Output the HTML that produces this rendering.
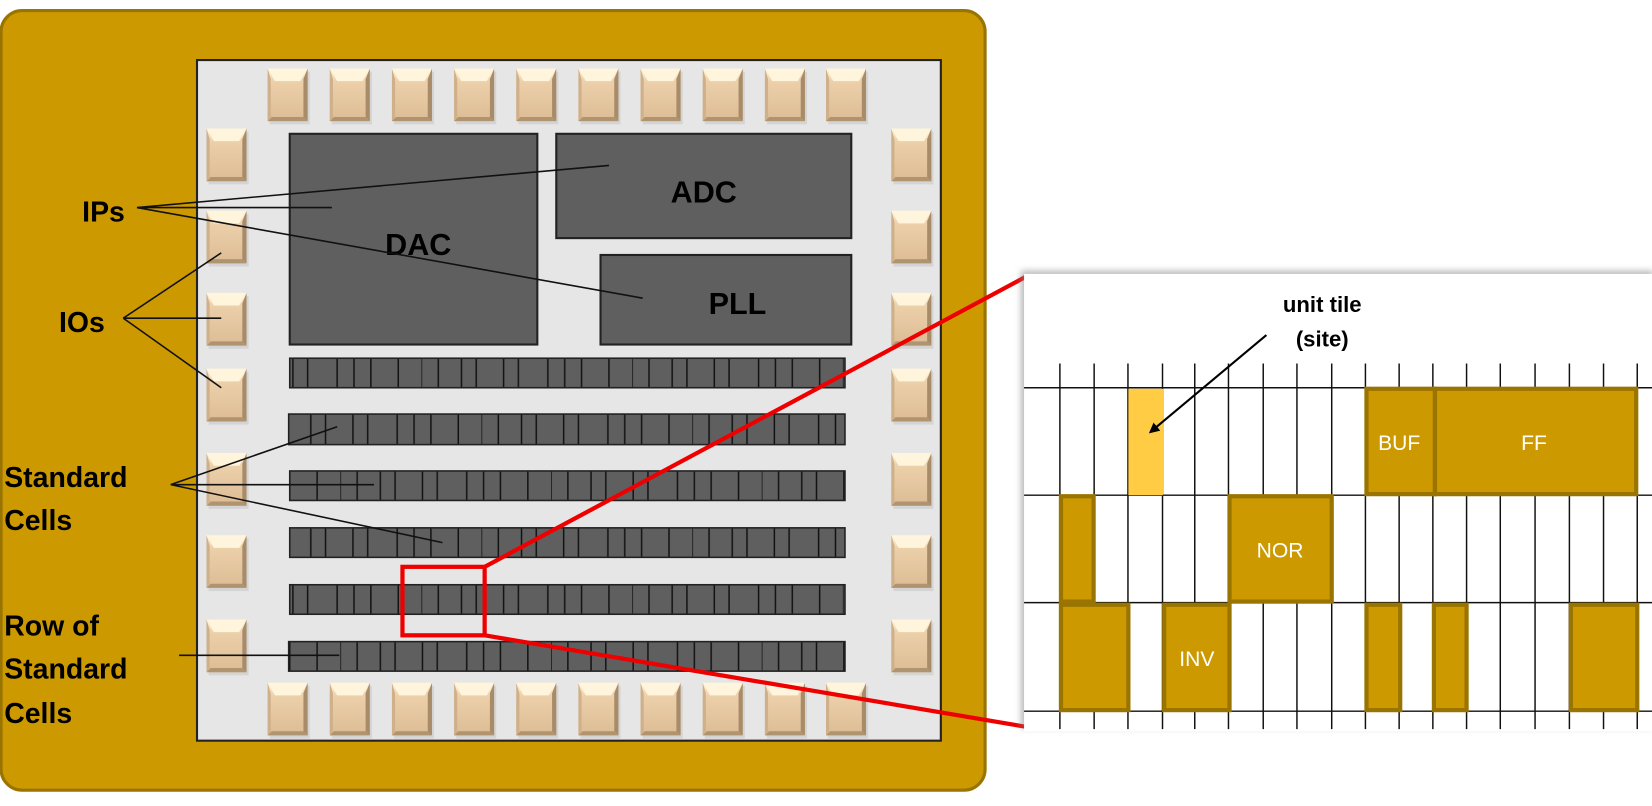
<!DOCTYPE html>
<html><head><meta charset="utf-8"><style>
html,body{margin:0;padding:0;background:#fff;}
svg{display:block;}
text{font-family:"Liberation Sans",Arial,sans-serif;}
</style></head><body>
<svg width="1652" height="806" viewBox="0 0 1568 765" preserveAspectRatio="none" xmlns="http://www.w3.org/2000/svg">
<defs>
<linearGradient id="padg" x1="0" y1="0" x2="0" y2="1">
<stop offset="0" stop-color="#fff2d6"/><stop offset="0.25" stop-color="#ecd0aa"/><stop offset="1" stop-color="#dcbc94"/>
</linearGradient>
<g id="pad">
<rect x="2" y="3" width="38" height="50" fill="#c8c8c8" opacity="0.6"/>
<rect x="0" y="0" width="38" height="50" fill="url(#padg)"/>
<polygon points="0,0 38,0 31,12 7,12" fill="#fff4dc"/>
<polygon points="38,0 38,50 34,46 34,10" fill="#a88c6a"/>
<polygon points="0,50 38,50 34,46 4,46" fill="#b0946f"/>
<polygon points="0,0 0,50 3,47 3,10" fill="#cfb08a"/>
</g>
<pattern id="rp1" x="0" y="0" width="200" height="40" patternUnits="userSpaceOnUse">
<rect width="200" height="40" fill="#5f5f5f"/>
<path d="M0 0V40M16 0V40M38 0V40M52 0V40M78 0V40M92 0V40M120 0V40M136 0V40M152 0V40M178 0V40" stroke="#111" stroke-width="1.4"/>
</pattern>
<pattern id="rp2" x="57" y="0" width="200" height="40" patternUnits="userSpaceOnUse">
<rect width="200" height="40" fill="#5f5f5f"/>
<path d="M0 0V40M16 0V40M38 0V40M52 0V40M78 0V40M92 0V40M120 0V40M136 0V40M152 0V40M178 0V40" stroke="#111" stroke-width="1.4"/>
</pattern>
<pattern id="rp3" x="123" y="0" width="200" height="40" patternUnits="userSpaceOnUse">
<rect width="200" height="40" fill="#5f5f5f"/>
<path d="M0 0V40M16 0V40M38 0V40M52 0V40M78 0V40M92 0V40M120 0V40M136 0V40M152 0V40M178 0V40" stroke="#111" stroke-width="1.4"/>
</pattern>
<marker id="ah" markerWidth="10" markerHeight="10" refX="8" refY="5" orient="auto" markerUnits="userSpaceOnUse">
<path d="M0,0 L10,5 L0,10 z" fill="#000"/>
</marker>
<filter id="sh" x="-5%" y="-5%" width="110%" height="110%"><feDropShadow dx="-3" dy="-3" stdDeviation="3" flood-color="#888" flood-opacity="0.6"/></filter>
</defs>

<!-- outer gold -->
<rect x="1" y="10" width="934" height="740" rx="20" fill="#cc9900" stroke="#9a7400" stroke-width="3"/>
<rect x="187" y="57" width="706" height="646" fill="#e6e6e6" stroke="#222" stroke-width="2"/>

<!-- top / bottom pads -->
<g>
<use href="#pad" x="254" y="65"/><use href="#pad" x="313" y="65"/><use href="#pad" x="372" y="65"/><use href="#pad" x="431" y="65"/><use href="#pad" x="490" y="65"/><use href="#pad" x="549" y="65"/><use href="#pad" x="608" y="65"/><use href="#pad" x="667" y="65"/><use href="#pad" x="726" y="65"/><use href="#pad" x="784" y="65"/>
<use href="#pad" x="254" y="648"/><use href="#pad" x="313" y="648"/><use href="#pad" x="372" y="648"/><use href="#pad" x="431" y="648"/><use href="#pad" x="490" y="648"/><use href="#pad" x="549" y="648"/><use href="#pad" x="608" y="648"/><use href="#pad" x="667" y="648"/><use href="#pad" x="726" y="648"/><use href="#pad" x="784" y="648"/>
<use href="#pad" x="196" y="122"/><use href="#pad" x="196" y="200"/><use href="#pad" x="196" y="278"/><use href="#pad" x="196" y="350"/><use href="#pad" x="196" y="430"/><use href="#pad" x="196" y="508"/><use href="#pad" x="196" y="588"/>
<use href="#pad" x="846" y="122"/><use href="#pad" x="846" y="200"/><use href="#pad" x="846" y="278"/><use href="#pad" x="846" y="350"/><use href="#pad" x="846" y="430"/><use href="#pad" x="846" y="508"/><use href="#pad" x="846" y="588"/>
</g>

<!-- IP blocks -->
<rect x="275" y="127" width="235" height="200" fill="#5f5f5f" stroke="#222" stroke-width="2"/>
<rect x="528" y="127" width="280" height="99" fill="#5f5f5f" stroke="#222" stroke-width="2"/>
<rect x="570" y="242" width="238" height="85" fill="#5f5f5f" stroke="#222" stroke-width="2"/>
<text x="397" y="242" font-size="29" font-weight="bold" text-anchor="middle" fill="#000">DAC</text>
<text x="668" y="192" font-size="29" font-weight="bold" text-anchor="middle" fill="#000">ADC</text>
<text x="700" y="298" font-size="29" font-weight="bold" text-anchor="middle" fill="#000">PLL</text>

<!-- rows -->
<rect x="275" y="340" width="527" height="28" fill="url(#rp1)" stroke="#222" stroke-width="1.5"/>
<rect x="274" y="393" width="528" height="29" fill="url(#rp2)" stroke="#222" stroke-width="1.5"/>
<rect x="275" y="447" width="527" height="28" fill="url(#rp3)" stroke="#222" stroke-width="1.5"/>
<rect x="275" y="501" width="527" height="28" fill="url(#rp2)" stroke="#222" stroke-width="1.5"/>
<rect x="275" y="555" width="527" height="28" fill="url(#rp1)" stroke="#222" stroke-width="1.5"/>
<rect x="274" y="609" width="528" height="28" fill="url(#rp3)" stroke="#222" stroke-width="1.5"/>

<!-- labels & leader lines -->
<g stroke="#111" stroke-width="1.5" fill="none">
<path d="M130 197 L578 157 M130 197 L315 197 M130 197 L610 283"/>
<path d="M117 302 L210 240 M117 302 L210 302 M117 302 L210 368"/>
<path d="M162 460 L320 405 M162 460 L355 460 M162 460 L420 515"/>
<path d="M170 622 L322 622"/>
</g>
<g font-size="27" font-weight="bold" fill="#000">
<text x="78" y="210">IPs</text>
<text x="56" y="315">IOs</text>
<text x="4" y="462">Standard</text>
<text x="4" y="503">Cells</text>
<text x="4" y="603">Row of</text>
<text x="4" y="644">Standard</text>
<text x="4" y="686">Cells</text>
</g>

<!-- red zoom -->
<rect x="382" y="538" width="78" height="65" fill="none" stroke="#ee0000" stroke-width="4"/>
<path d="M460 538 L975 262 M460 603 L975 690" stroke="#ee0000" stroke-width="4"/>

<!-- right panel -->
<rect x="972" y="260" width="600" height="434" fill="#fff" filter="url(#sh)"/>
<g stroke="#111" stroke-width="1.4">
<path d="M1006 345V692M1038.5 345V692M1070.6 345V692M1103.4 345V692M1134 345V692M1166 345V692M1199 345V692M1231 345V692M1264 345V692M1296 345V692M1328 345V692M1360 345V692M1392 345V692M1424 345V692M1457 345V692M1489.6 345V692M1522 345V692M1554 345V692"/>
<path d="M972 368H1568M972 470H1568M972 572H1568M972 675H1568"/>
</g>
<rect x="1071" y="369" width="33" height="101" fill="#ffcc44"/>
<g fill="#cc9900" stroke="#9a7400" stroke-width="4">
<rect x="1297" y="369" width="65" height="100"/>
<rect x="1362" y="369" width="191" height="100"/>
<rect x="1007" y="471" width="31" height="100"/>
<rect x="1167" y="471" width="97" height="100"/>
<rect x="1007" y="574" width="64" height="100"/>
<rect x="1105" y="574" width="62" height="100"/>
<rect x="1297" y="574" width="32" height="100"/>
<rect x="1361" y="574" width="31" height="100"/>
<rect x="1491" y="574" width="63" height="100"/>
</g>
<g fill="#fff" font-size="20" text-anchor="middle">
<text x="1328" y="427">BUF</text>
<text x="1456" y="427">FF</text>
<text x="1215" y="529">NOR</text>
<text x="1136" y="632">INV</text>
</g>
<text x="1255" y="296" font-size="21" font-weight="bold" text-anchor="middle" fill="#000">unit tile</text>
<text x="1255" y="329" font-size="21" font-weight="bold" text-anchor="middle" fill="#000">(site)</text>
<path d="M1202 318 L1092 410" stroke="#000" stroke-width="2" marker-end="url(#ah)"/>
</svg>
</body></html>
